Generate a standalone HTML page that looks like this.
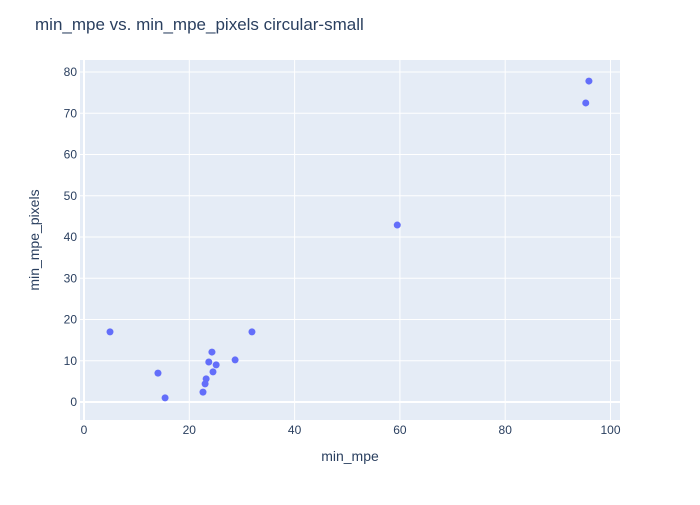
<!DOCTYPE html>
<html><head><meta charset="utf-8"><style>
body{margin:0;background:#fff;font-family:"Liberation Sans",sans-serif}
svg text{font-family:"Liberation Sans",sans-serif;fill:#2a3f5f}
</style></head><body>
<svg id="c" width="700" height="500">
<rect x="0" y="0" width="700" height="500" fill="#fff"/>
<rect x="80" y="60" width="540" height="360" fill="#e5ecf6"/>
<g id="grid"></g><g id="pts"></g>
<text x="35" y="30" font-size="17">min_mpe vs. min_mpe_pixels circular-small</text>
<text x="350" y="461" font-size="14" text-anchor="middle">min_mpe</text>
<text transform="translate(39,240) rotate(-90)" font-size="14" text-anchor="middle">min_mpe_pixels</text>
</svg>
<script>
const xVals=[4.94,14.05,15.4,22.6,23.0,23.2,23.7,24.3,24.5,25.1,28.7,31.9,59.5,95.3,95.9];
const yVals=[17.0,7.0,1.0,2.4,4.4,5.6,9.7,12.1,7.3,9.0,10.2,17.0,42.9,72.5,77.8];
const xTicks=[0,20,40,60,80,100];
const yTicks=[0,10,20,30,40,50,60,70,80];
const ns="http://www.w3.org/2000/svg";
const sx=v=>84+v*5.265, sy=v=>402-v*4.125;
const grid=document.getElementById('grid'), pts=document.getElementById('pts');
function mk(t,a,p){const e=document.createElementNS(ns,t);for(const k in a)e.setAttribute(k,a[k]);p.appendChild(e);return e;}
xTicks.forEach(t=>{const l=mk('line',{x1:sx(t),x2:sx(t),y1:60,y2:420,stroke:'#fff','stroke-width':t===0?2:1},grid);


const tx=mk('text',{x:sx(t),y:434,'font-size':12,'text-anchor':'middle'},grid);tx.textContent=t;

});
yTicks.forEach(t=>{const l=mk('line',{x1:80,x2:620,y1:sy(t),y2:sy(t),stroke:'#fff','stroke-width':t===0?2:1},grid);


const tx=mk('text',{x:77,y:sy(t)+4,'font-size':12,'text-anchor':'end'},grid);tx.textContent=t;

});
xVals.forEach((x,i)=>{const c=mk('circle',{cx:sx(x),cy:sy(yVals[i]),r:3.5,fill:'#636efa'},pts);

});
</script>
</body></html>
